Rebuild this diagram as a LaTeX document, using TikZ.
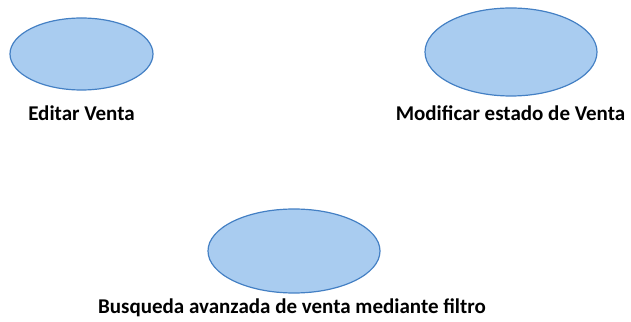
\documentclass[tikz,border=0pt]{standalone}
\usepackage{fontspec}
\setmainfont{Carlito}
\usetikzlibrary{shapes.geometric}
\definecolor{ucfill}{RGB}{169,204,240}
\definecolor{ucdraw}{RGB}{68,128,196}
\begin{document}
\begin{tikzpicture}[x=1pt,y=1pt,
  usecase/.style={ellipse,draw=ucdraw,fill=ucfill,line width=1.2pt,inner sep=0pt},
  lbl/.style={font=\bfseries\fontsize{21}{24}\selectfont,inner sep=0pt,anchor=center}]
\useasboundingbox (0,0) rectangle (631,321);
\node[usecase,minimum width=143,minimum height=72] (u1) at (81.5,267) {};
\node[lbl] (t1) at (81.5,208) {Editar Venta};
\node[usecase,minimum width=172,minimum height=88] (u2) at (511,269) {};
\node[lbl] (t2) at (510.5,208) {Modificar estado de Venta};
\node[usecase,minimum width=172,minimum height=84] (u3) at (294,70) {};
\node[lbl] (t3) at (292,13) {Busqueda avanzada de venta mediante filtro};
\end{tikzpicture}
\end{document}
